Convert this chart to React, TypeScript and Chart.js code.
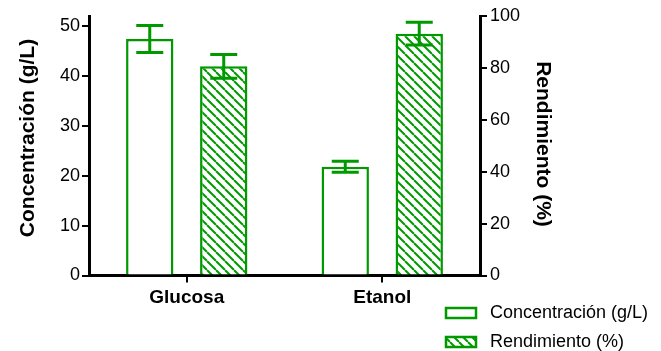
import React, { useEffect, useRef } from "react";
import { Chart, registerables } from "chart.js";

Chart.register(...registerables);

const categories = ["Glucosa", "Etanol"];
const concentracion = [47.4, 21.8];
const concentracionErr = [2.7, 1.1];
const rendimiento = [80.6, 93.2];
const rendimientoErr = [4.6, 4.4];
const seriesLabels = ["Concentración (g/L)", "Rendimiento (%)"];
const axisTitles = ["Concentración (g/L)", "Rendimiento (%)"];

const GREEN = "#009900";
const FONT = "'Liberation Sans', Arial, sans-serif";

function makeHatch(): CanvasPattern | string {
  const s = 9;
  const c = document.createElement("canvas");
  c.width = s;
  c.height = s;
  const ctx = c.getContext("2d");
  if (!ctx) return GREEN;
  ctx.fillStyle = "#ffffff";
  ctx.fillRect(0, 0, s, s);
  ctx.strokeStyle = GREEN;
  ctx.lineWidth = 2;
  for (let k = -1; k <= 1; k++) {
    ctx.beginPath();
    ctx.moveTo(k * s, 0);
    ctx.lineTo(k * s + s, s);
    ctx.stroke();
  }
  return ctx.createPattern(c, "repeat") || GREEN;
}

const errorBarPlugin = {
  id: "errorBars",
  afterDatasetsDraw(chart: any) {
    const ctx = chart.ctx;
    chart.data.datasets.forEach((ds: any, i: number) => {
      const meta = chart.getDatasetMeta(i);
      const yScale = chart.scales[ds.yAxisID];
      meta.data.forEach((el: any, j: number) => {
        const v = ds.data[j];
        const e = ds.errors[j];
        const x = el.x;
        const yt = yScale.getPixelForValue(v + e);
        const yb = yScale.getPixelForValue(v - e);
        const half = 13.5;
        ctx.save();
        ctx.strokeStyle = GREEN;
        ctx.lineWidth = 3;
        ctx.beginPath();
        ctx.moveTo(x, yt);
        ctx.lineTo(x, yb);
        ctx.moveTo(x - half, yt);
        ctx.lineTo(x + half, yt);
        ctx.moveTo(x - half, yb);
        ctx.lineTo(x + half, yb);
        ctx.stroke();
        ctx.restore();
      });
    });
  },
};

const titlesLegendPlugin = {
  id: "titlesLegend",
  afterDraw(chart: any) {
    const ctx = chart.ctx;
    ctx.save();
    ctx.fillStyle = "#000";
    ctx.textAlign = "center";
    ctx.textBaseline = "middle";
    ctx.font = `bold 21px ${FONT}`;
    ctx.save();
    ctx.translate(28, 138);
    ctx.rotate(-Math.PI / 2);
    ctx.fillText(axisTitles[0], 0, 0);
    ctx.restore();
    ctx.save();
    ctx.translate(543, 144);
    ctx.rotate(Math.PI / 2);
    ctx.fillText(axisTitles[1], 0, 0);
    ctx.restore();

    // legend
    const rows = [313, 342];
    chart.data.datasets.forEach((ds: any, i: number) => {
      const cy = rows[i];
      ctx.fillStyle = ds.backgroundColor;
      ctx.fillRect(446, cy - 5, 30, 10);
      ctx.strokeStyle = GREEN;
      ctx.lineWidth = 2.5;
      ctx.strokeRect(446, cy - 5, 30, 10);
      ctx.fillStyle = "#000";
      ctx.font = `18px ${FONT}`;
      ctx.textAlign = "left";
      ctx.textBaseline = "middle";
      ctx.fillText(ds.label, 490, cy);
    });
    ctx.restore();
  },
};

export default function App() {
  const ref = useRef<HTMLCanvasElement | null>(null);
  useEffect(() => {
    document.body.style.margin = "0";
    if (!ref.current) return;
    const hatch = makeHatch();
    const tickFont = { family: FONT, size: 18 };
    const chart = new Chart(ref.current, {
      type: "bar",
      data: {
        labels: categories,
        datasets: [
          {
            label: seriesLabels[0],
            data: concentracion,
            errors: concentracionErr,
            yAxisID: "y",
            backgroundColor: "#ffffff",
            borderColor: GREEN,
            borderWidth: 2.5,
            barPercentage: 0.64,
            categoryPercentage: 0.757,
          } as any,
          {
            label: seriesLabels[1],
            data: rendimiento,
            errors: rendimientoErr,
            yAxisID: "y2",
            backgroundColor: hatch,
            borderColor: GREEN,
            borderWidth: 2.5,
            barPercentage: 0.64,
            categoryPercentage: 0.757,
          } as any,
        ],
      },
      options: {
        responsive: false,
        animation: false,
        layout: { padding: { top: 16, left: 0, right: 0, bottom: 0 } },
        plugins: { legend: { display: false }, tooltip: { enabled: false } },
        scales: {
          x: {
            grid: {
              display: true,
              drawOnChartArea: false,
              offset: false,
              tickLength: 7,
              lineWidth: 2,
              color: "#000",
            },
            border: { color: "#000", width: 3 },
            ticks: {
              color: "#000",
              font: { family: FONT, size: 19, weight: "bold" },
              padding: 4,
            },
            afterFit: (s: any) => {
              s.height = 75.5;
            },
          },
          y: {
            position: "left",
            min: 0,
            max: 52,
            ticks: {
              stepSize: 10,
              includeBounds: false,
              color: "#000",
              font: tickFont,
              padding: 2,
            },
            grid: {
              display: true,
              drawOnChartArea: false,
              tickLength: 7,
              lineWidth: 2,
              color: "#000",
            },
            border: { color: "#000", width: 3 },
            afterFit: (s: any) => {
              s.width = 89;
            },
          },
          y2: {
            position: "right",
            min: 0,
            max: 100,
            ticks: {
              stepSize: 20,
              color: "#000",
              font: tickFont,
              padding: 3,
            },
            grid: {
              display: true,
              drawOnChartArea: false,
              tickLength: 7,
              lineWidth: 2,
              color: "#000",
            },
            border: { color: "#000", width: 3 },
            afterFit: (s: any) => {
              s.width = 181;
            },
          },
        },
      } as any,
      plugins: [errorBarPlugin, titlesLegendPlugin],
    });
    return () => chart.destroy();
  }, []);
  return (
    <div style={{ width: 661, height: 351 }}>
      <canvas ref={ref} width={661} height={351} />
    </div>
  );
}
